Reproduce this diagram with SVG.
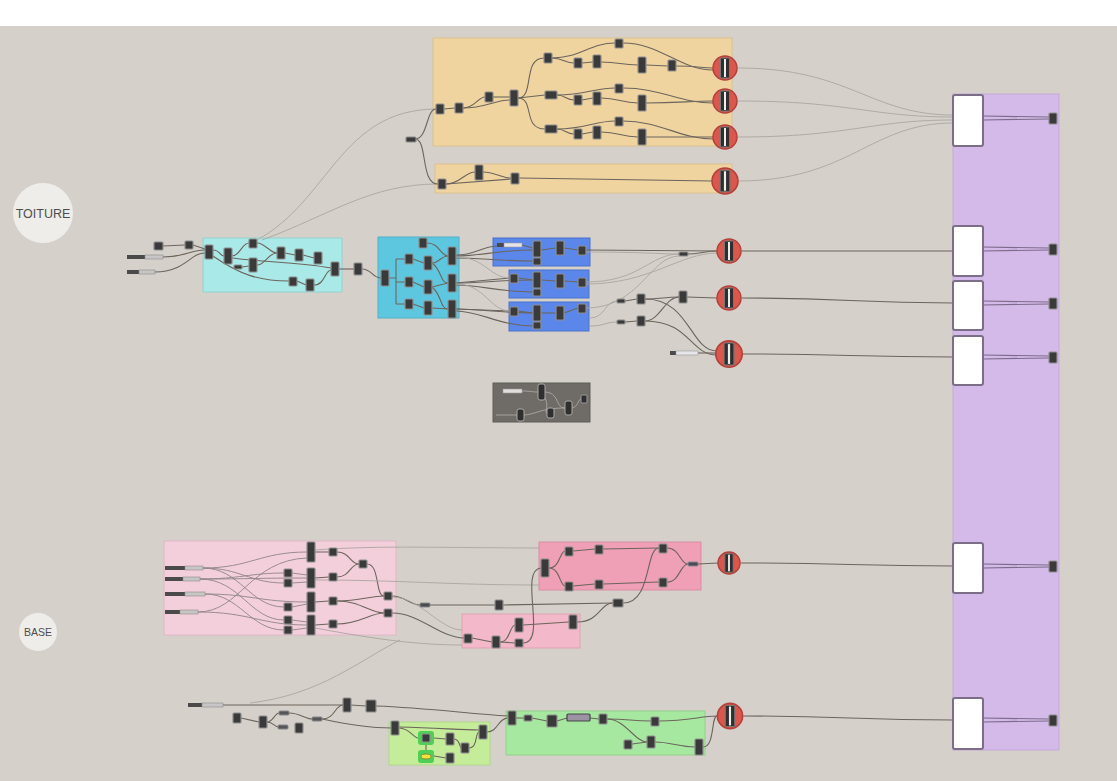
<svg xmlns="http://www.w3.org/2000/svg" width="1117" height="781" viewBox="0 0 1117 781">
<style>
.n{fill:#3a3a3a;stroke:#8e8e8e;stroke-width:1.2}
.w{fill:none;stroke:#6c655d;stroke-width:1.1}
.f{fill:none;stroke:#aaa6a0;stroke-width:0.9}
.p{fill:none;stroke:#8e8488;stroke-width:0.9}
.v{fill:none;stroke:#7c6b8a;stroke-width:1.2}
.sd{fill:#4a4a4a}
.sl{fill:#c8c6c4;stroke:#8a8a8a;stroke-width:0.6}
.wb{fill:#ffffff;stroke:#7b6e86;stroke-width:2}
.lbl{font-family:"Liberation Sans",Arial,sans-serif;fill:#4d4d4d}
</style>
<defs>
<g id="rc"><circle r="12" fill="#d9574c" stroke="#b5423a" stroke-width="1.5"/><rect x="-4.5" y="-10" width="9" height="20" rx="1" fill="#2f2f2f" stroke="#777"/><rect x="-1" y="-9" width="2" height="18" fill="#eeeeee"/></g>
</defs>
<rect x="0" y="0" width="1117" height="781" fill="#ffffff"/>
<rect x="0" y="26" width="1117" height="755" fill="#d5d1ca"/>

<g id="TOITURE"><circle cx="43" cy="213" r="30" fill="#efedea"/><text class="lbl" x="43" y="217.5" font-size="12.5" text-anchor="middle">TOITURE</text></g>
<g id="BASE"><circle cx="38" cy="632" r="19" fill="#efedea"/><text class="lbl" x="38" y="636" font-size="10.5" text-anchor="middle">BASE</text></g>

<g id="group-orange-1"><rect x="433" y="38" width="299" height="108" fill="#efd4a0" stroke="#dcc090"/></g>
<g id="group-orange-2"><rect x="435" y="164" width="297" height="29" fill="#efd4a0" stroke="#dcc090"/></g>
<g id="group-cyan-1"><rect x="203" y="238" width="139" height="54" fill="#a9e9e7" stroke="#96d2d0"/></g>
<g id="group-cyan-2"><rect x="378" y="237" width="81" height="81" fill="#5ec7e0" stroke="#4fb0c8"/></g>
<g id="group-blue-1"><rect x="493" y="238" width="97" height="28" fill="#5b87ea" stroke="#4a72cc"/></g>
<g id="group-blue-2"><rect x="509" y="270" width="80" height="28" fill="#5b87ea" stroke="#4a72cc"/></g>
<g id="group-blue-3"><rect x="509" y="302" width="80" height="29" fill="#5b87ea" stroke="#4a72cc"/></g>
<g id="group-gray"><rect x="493" y="383" width="97" height="39" fill="#6f6c67" stroke="#5f5c58"/></g>
<g id="group-pink-1"><rect x="164" y="541" width="232" height="94" fill="#f3cfdc" stroke="#e0b8c5"/></g>
<g id="group-pink-2"><rect x="539" y="542" width="162" height="48" fill="#ef9fb6" stroke="#d98da3"/></g>
<g id="group-pink-3"><rect x="462" y="614" width="118" height="34" fill="#f3b8c9" stroke="#dfa3b4"/></g>
<g id="group-lightgreen"><rect x="389" y="722" width="101" height="43" fill="#c5ec98" stroke="#b0d888"/></g>
<g id="group-green"><rect x="506" y="711" width="199" height="44" fill="#a7e8a0" stroke="#93d08c"/></g>
<g id="group-purple"><rect x="953" y="94" width="106" height="656" fill="#d4bae9" stroke="#c4a9da"/></g>

<g id="connectors">
<!-- faint long -->
<path class="f" d="M257 240 C330 200 340 110 436 109"/>
<path class="f" d="M262 240 C330 215 370 184 438 184"/>
<path class="f" d="M738 68 C850 68 870 115 953 115"/>
<path class="f" d="M738 101 C850 101 870 117 953 117"/>
<path class="f" d="M738 137 C850 137 870 120 953 120"/>
<path class="f" d="M738 181 C850 181 870 123 953 123"/>
<path class="f" d="M250 703 C320 695 360 660 400 640"/>
<!-- orange 1 -->
<path class="w" d="M415 139 C428 139 426 109 436 109"/>
<path class="w" d="M415 139 C428 139 420 184 438 184"/>
<path class="w" d="M444 109 L455 108"/>
<path class="w" d="M463 108 C475 108 478 97 485 97"/>
<path class="w" d="M463 108 C485 108 495 100 510 100"/>
<path class="w" d="M493 97 L510 97"/>
<path class="w" d="M518 98 C535 98 522 58 544 58"/>
<path class="w" d="M518 98 L545 95"/>
<path class="w" d="M518 98 C535 98 522 129 545 129"/>
<path class="w" d="M552 58 C563 58 565 63 574 63"/>
<path class="w" d="M582 63 L593 62"/>
<path class="w" d="M601 62 C620 62 620 65 638 65"/>
<path class="w" d="M646 65 L668 66"/>
<path class="w" d="M676 66 C700 66 700 68 713 68"/>
<path class="w" d="M552 58 C580 58 590 43 615 43"/>
<path class="w" d="M623 43 C660 43 680 70 713 70"/>
<path class="w" d="M557 95 C565 95 566 100 574 100"/>
<path class="w" d="M582 100 L593 98"/>
<path class="w" d="M601 98 C620 98 620 103 638 103"/>
<path class="w" d="M646 103 C680 103 690 101 713 101"/>
<path class="w" d="M557 95 C585 95 595 88 615 88"/>
<path class="w" d="M623 88 C660 88 680 103 713 103"/>
<path class="w" d="M557 129 C565 129 566 134 574 134"/>
<path class="w" d="M582 134 L593 132"/>
<path class="w" d="M601 132 C620 132 620 137 638 137"/>
<path class="w" d="M646 137 L713 137"/>
<path class="w" d="M557 129 C585 129 595 121 615 121"/>
<path class="w" d="M623 121 C660 121 680 139 713 139"/>
<!-- orange 2 -->
<path class="w" d="M446 184 C460 184 465 172 475 172"/>
<path class="w" d="M483 172 C495 172 500 178 511 178"/>
<path class="w" d="M446 184 L511 179"/>
<path class="w" d="M519 178 L712 181"/>
<!-- cyan 1 -->
<path class="w" d="M163 246 L185 245"/>
<path class="w" d="M193 245 L205 249"/>
<path class="w" d="M163 257 C185 257 190 250 205 250"/>
<path class="w" d="M155 272 C185 272 190 253 205 253"/>
<path class="w" d="M213 250 C220 250 220 256 224 256"/>
<path class="w" d="M232 256 C240 256 242 243 249 243"/>
<path class="w" d="M257 243 C265 243 270 253 277 253"/>
<path class="w" d="M257 265 C265 265 268 253 277 253"/>
<path class="w" d="M242 267 L249 266"/>
<path class="w" d="M232 258 C260 262 300 262 331 268"/>
<path class="w" d="M213 256 C240 275 260 281 289 281"/>
<path class="w" d="M297 281 L306 285"/>
<path class="w" d="M314 285 C325 285 325 270 331 270"/>
<path class="w" d="M339 269 L354 269"/>
<path class="w" d="M362 269 C372 269 372 278 381 278"/>
<path class="w" d="M285 253 L295 255 M303 255 L314 258"/>
<!-- cyan 2 -->
<path class="w" d="M389 278 L396 278 M396 259 L396 304 M396 259 L405 259 M396 282 L405 282 M396 304 L405 304"/>
<path class="w" d="M413 259 L424 263"/>
<path class="w" d="M413 282 L424 287"/>
<path class="w" d="M413 304 L424 308"/>
<path class="w" d="M427 243 C440 243 440 256 448 256"/>
<path class="w" d="M432 263 C440 263 440 256 448 256"/>
<path class="w" d="M432 287 L448 283"/>
<path class="w" d="M432 308 L448 309"/>
<path class="w" d="M432 263 C442 270 440 283 448 283"/>
<path class="w" d="M432 287 C442 295 440 309 448 309"/>
<!-- blue -->
<path class="w" d="M456 256 C480 256 500 250 533 250"/>
<path class="w" d="M456 258 C480 258 500 261 533 261"/>
<path class="w" d="M456 255 C475 255 480 247 497 246"/>
<path class="w" d="M522 245 L533 248"/>
<path class="w" d="M541 250 L556 248"/>
<path class="w" d="M564 248 L578 250"/>
<path class="w" d="M586 250 L717 251"/>
<path class="w" d="M456 283 L510 278"/>
<path class="w" d="M456 283 C480 283 500 280 533 280"/>
<path class="w" d="M456 285 C480 285 500 292 533 292"/>
<path class="w" d="M518 278 L533 280"/>
<path class="w" d="M541 280 L556 281"/>
<path class="w" d="M564 281 L578 282"/>
<path class="w" d="M456 309 L510 311"/>
<path class="w" d="M456 309 C480 309 500 313 533 313"/>
<path class="w" d="M456 311 C480 311 500 326 533 326"/>
<path class="w" d="M518 311 L533 313"/>
<path class="w" d="M541 313 L556 313"/>
<path class="w" d="M564 313 L578 308"/>
<path class="f" d="M456 257 C485 257 490 278 510 278"/>
<path class="f" d="M456 284 C485 284 490 311 510 311"/>
<path class="f" d="M586 282 C640 282 650 254 679 254"/>
<path class="f" d="M586 308 C640 308 650 256 679 256"/>
<path class="f" d="M586 252 C640 252 660 254 679 254"/>
<path class="f" d="M586 284 C650 284 680 253 717 253"/>
<path class="w" d="M687 254 C700 254 705 251 717 251"/>
<path class="f" d="M590 318 C605 318 605 301 617 301"/>
<path class="f" d="M590 326 C605 326 605 322 617 322"/>
<path class="w" d="M625 301 L637 299"/>
<path class="w" d="M625 322 L637 321"/>
<path class="w" d="M645 299 C660 299 665 297 679 297"/>
<path class="w" d="M687 297 L717 298"/>
<path class="w" d="M645 321 C660 321 665 297 679 297"/>
<path class="w" d="M645 299 C690 299 690 351 717 351"/>
<path class="w" d="M645 321 C690 321 690 355 717 355"/>
<path class="w" d="M698 353 L716 353"/>
<path class="w" d="M742 251 L953 251"/>
<path class="w" d="M742 298 C850 298 850 303 953 303"/>
<path class="w" d="M743 354 C850 354 850 357 953 357"/>
<!-- gray group -->
<path class="f" d="M522 391 C530 391 532 392 538 392"/>
<path class="f" d="M544 392 C560 392 555 408 565 408"/>
<path class="f" d="M496 415 L517 415"/>
<path class="f" d="M523 415 C535 415 540 408 565 408"/>
<path class="f" d="M544 396 C550 405 544 413 547 413"/>
<path class="f" d="M571 408 C578 408 578 399 581 399"/>
<!-- pink 1 -->
<path class="p" d="M203 568 C250 568 260 552 307 552"/>
<path class="p" d="M203 568 C240 568 250 583 284 583"/>
<path class="p" d="M203 568 C240 568 250 607 284 607"/>
<path class="p" d="M200 579 C240 579 250 573 284 573"/>
<path class="p" d="M200 579 C250 579 260 578 307 578"/>
<path class="p" d="M200 579 C240 579 250 620 284 620"/>
<path class="p" d="M205 594 C250 594 260 602 307 602"/>
<path class="p" d="M205 594 C240 594 250 630 284 630"/>
<path class="p" d="M198 612 C250 612 260 625 307 625"/>
<path class="p" d="M198 612 C240 612 250 560 307 558"/>
<path class="p" d="M292 573 L307 575 M292 583 L307 582 M292 607 L307 604 M292 620 L307 622 M292 630 L307 628"/>
<path class="w" d="M315 552 L329 552 M315 578 L329 577 M315 602 L329 601 M315 625 L329 624"/>
<path class="w" d="M337 552 C350 552 350 564 359 564"/>
<path class="w" d="M337 577 C350 577 350 564 359 564"/>
<path class="w" d="M367 564 C380 564 375 596 384 596"/>
<path class="w" d="M337 601 C360 601 370 596 384 596"/>
<path class="w" d="M337 624 C360 624 370 613 384 613"/>
<path class="w" d="M337 601 C360 601 370 613 384 613"/>
<path class="f" d="M315 550 C380 545 450 548 539 548"/>
<path class="f" d="M315 580 C400 580 450 585 539 585"/>
<path class="w" d="M392 596 C405 596 410 605 420 605"/>
<path class="w" d="M392 613 C420 613 440 638 464 638"/>
<path class="f" d="M392 597 C420 597 440 630 462 630"/>
<path class="f" d="M315 628 C380 640 420 645 462 645"/>
<!-- pink 2/3 -->
<path class="w" d="M430 605 L495 605"/>
<path class="w" d="M503 605 L613 603"/>
<path class="w" d="M623 603 C652 603 645 548 659 548"/>
<path class="w" d="M472 638 L492 642"/>
<path class="w" d="M500 642 C510 642 510 625 515 625"/>
<path class="w" d="M500 642 L515 643"/>
<path class="w" d="M523 625 L569 622"/>
<path class="w" d="M523 643 C548 643 518 570 541 568"/>
<path class="w" d="M577 622 C600 622 600 603 613 603"/>
<path class="w" d="M549 568 C560 568 560 551 565 551"/>
<path class="w" d="M573 551 L595 549"/>
<path class="w" d="M603 549 L659 548"/>
<path class="w" d="M549 568 C560 568 560 586 565 586"/>
<path class="w" d="M573 586 L595 584"/>
<path class="w" d="M603 584 L659 582"/>
<path class="w" d="M667 548 C680 548 680 564 688 564"/>
<path class="w" d="M667 582 C680 582 680 564 688 564"/>
<path class="w" d="M698 564 L718 563"/>
<path class="w" d="M741 563 C850 563 850 566 953 566"/>
<!-- bottom -->
<path class="w" d="M223 705 C280 705 320 705 343 705"/>
<path class="w" d="M241 718 L259 722"/>
<path class="w" d="M267 722 C273 722 275 713 279 713"/>
<path class="w" d="M267 722 C273 722 275 727 278 727"/>
<path class="w" d="M289 713 C300 713 305 719 312 719"/>
<path class="w" d="M322 719 C335 719 335 705 343 705"/>
<path class="w" d="M351 705 L366 706"/>
<path class="w" d="M376 706 C430 708 470 714 508 716"/>
<path class="w" d="M322 719 C350 725 370 728 391 728"/>
<path class="w" d="M399 728 C410 728 413 738 418 738"/>
<path class="w" d="M399 727 C440 728 460 730 479 730"/>
<path class="w" d="M434 738 L446 739"/>
<path class="w" d="M426 744 L426 751"/>
<path class="w" d="M434 756 L446 758"/>
<path class="w" d="M454 739 C460 739 460 748 461 748"/>
<path class="w" d="M469 748 C478 748 475 732 479 732"/>
<path class="w" d="M487 732 C498 732 498 718 508 718"/>
<path class="w" d="M516 718 L524 718"/>
<path class="w" d="M532 718 L547 721"/>
<path class="w" d="M557 721 L567 718"/>
<path class="w" d="M590 718 L599 719"/>
<path class="w" d="M607 719 C630 719 630 721 651 721"/>
<path class="w" d="M607 719 C625 719 635 742 647 742"/>
<path class="w" d="M632 744 L647 742"/>
<path class="w" d="M655 742 C670 742 680 747 695 747"/>
<path class="w" d="M659 721 C690 721 700 716 717 716"/>
<path class="w" d="M703 747 C715 747 711 716 717 716"/>
<path class="w" d="M743 716 C850 716 850 720 953 720"/>
<!-- purple outputs -->
<path class="v" d="M983 116 L1049 117 M983 120 L1049 119"/>
<path class="v" d="M983 247 L1049 248 M983 251 L1049 250"/>
<path class="v" d="M983 301 L1049 302 M983 305 L1049 304"/>
<path class="v" d="M983 355 L1049 356 M983 359 L1049 358"/>
<path class="v" d="M983 564 L1049 565 M983 568 L1049 567"/>
<path class="v" d="M983 718 L1049 719 M983 722 L1049 721"/>
</g>

<!-- orange 1 nodes -->
<g id="o0"><rect x="406" y="137" width="10" height="5" rx="1" class="n"/></g>
<g id="o1"><rect x="436" y="104" width="8" height="10" rx="1" class="n"/></g>
<g id="o2"><rect x="455" y="103" width="8" height="10" rx="1" class="n"/></g>
<g id="o3"><rect x="485" y="92" width="8" height="10" rx="1" class="n"/></g>
<g id="o4"><rect x="510" y="90" width="8" height="16" rx="1" class="n"/></g>
<g id="o5"><rect x="544" y="53" width="8" height="10" rx="1" class="n"/></g>
<g id="o6"><rect x="574" y="58" width="8" height="10" rx="1" class="n"/></g>
<g id="o7"><rect x="593" y="55" width="8" height="13" rx="1" class="n"/></g>
<g id="o8"><rect x="615" y="39" width="8" height="9" rx="1" class="n"/></g>
<g id="o9"><rect x="638" y="57" width="8" height="16" rx="1" class="n"/></g>
<g id="o10"><rect x="668" y="60" width="8" height="11" rx="1" class="n"/></g>
<g id="o11"><rect x="545" y="91" width="12" height="8" rx="1" class="n"/></g>
<g id="o12"><rect x="574" y="95" width="8" height="10" rx="1" class="n"/></g>
<g id="o13"><rect x="593" y="92" width="8" height="13" rx="1" class="n"/></g>
<g id="o14"><rect x="615" y="84" width="8" height="9" rx="1" class="n"/></g>
<g id="o15"><rect x="638" y="95" width="8" height="16" rx="1" class="n"/></g>
<g id="o16"><rect x="545" y="125" width="12" height="8" rx="1" class="n"/></g>
<g id="o17"><rect x="574" y="129" width="8" height="10" rx="1" class="n"/></g>
<g id="o18"><rect x="593" y="126" width="8" height="13" rx="1" class="n"/></g>
<g id="o19"><rect x="615" y="117" width="8" height="9" rx="1" class="n"/></g>
<g id="o20"><rect x="638" y="129" width="8" height="16" rx="1" class="n"/></g>
<g id="p1"><rect x="438" y="179" width="8" height="10" rx="1" class="n"/></g>
<g id="p2"><rect x="475" y="165" width="8" height="15" rx="1" class="n"/></g>
<g id="p3"><rect x="511" y="173" width="8" height="11" rx="1" class="n"/></g>
<g id="r1"><use href="#rc" x="725" y="68"/></g>
<g id="r2"><use href="#rc" x="725" y="101"/></g>
<g id="r3"><use href="#rc" x="725" y="137"/></g>
<g id="r4"><use href="#rc" x="725" y="181" transform="translate(725 181) scale(1.08) translate(-725 -181)"/></g>

<!-- cyan 1 nodes -->
<g id="sl1"><rect x="127" y="255" width="18" height="4" class="sd"/><rect x="145" y="255" width="18" height="4" class="sl"/></g>
<g id="sl2"><rect x="127" y="270" width="12" height="4" class="sd"/><rect x="139" y="270" width="16" height="4" class="sl"/></g>
<g id="c1"><rect x="154" y="242" width="9" height="8" rx="1" class="n"/></g>
<g id="c2"><rect x="185" y="241" width="8" height="8" rx="1" class="n"/></g>
<g id="c3"><rect x="205" y="245" width="8" height="14" rx="1" class="n"/></g>
<g id="c4"><rect x="224" y="248" width="8" height="16" rx="1" class="n"/></g>
<g id="c5"><rect x="234" y="265" width="8" height="4" rx="1" class="n"/></g>
<g id="c6"><rect x="249" y="239" width="8" height="9" rx="1" class="n"/></g>
<g id="c7"><rect x="249" y="258" width="8" height="14" rx="1" class="n"/></g>
<g id="c8"><rect x="277" y="247" width="8" height="12" rx="1" class="n"/></g>
<g id="c9"><rect x="295" y="249" width="8" height="12" rx="1" class="n"/></g>
<g id="c10"><rect x="314" y="252" width="8" height="12" rx="1" class="n"/></g>
<g id="c11"><rect x="331" y="262" width="8" height="14" rx="1" class="n"/></g>
<g id="c12"><rect x="354" y="263" width="8" height="12" rx="1" class="n"/></g>
<g id="c13"><rect x="289" y="277" width="8" height="9" rx="1" class="n"/></g>
<g id="c14"><rect x="306" y="279" width="8" height="12" rx="1" class="n"/></g>

<!-- cyan 2 nodes -->
<g id="d1"><rect x="381" y="270" width="8" height="16" rx="1" class="n"/></g>
<g id="d2"><rect x="405" y="254" width="8" height="10" rx="1" class="n"/></g>
<g id="d3"><rect x="405" y="277" width="8" height="10" rx="1" class="n"/></g>
<g id="d4"><rect x="405" y="299" width="8" height="10" rx="1" class="n"/></g>
<g id="d5"><rect x="419" y="238" width="8" height="10" rx="1" class="n"/></g>
<g id="d6"><rect x="424" y="256" width="8" height="14" rx="1" class="n"/></g>
<g id="d7"><rect x="424" y="280" width="8" height="14" rx="1" class="n"/></g>
<g id="d8"><rect x="424" y="301" width="8" height="14" rx="1" class="n"/></g>
<g id="d9"><rect x="448" y="247" width="8" height="18" rx="1" class="n"/></g>
<g id="d10"><rect x="448" y="274" width="8" height="18" rx="1" class="n"/></g>
<g id="d11"><rect x="448" y="300" width="8" height="18" rx="1" class="n"/></g>

<!-- blue nodes -->
<g id="sl3"><rect x="497" y="243" width="7" height="4" class="sd"/><rect x="504" y="243" width="18" height="4" fill="#e6e6ea" stroke="#999" stroke-width="0.6"/></g>
<g id="e1"><rect x="533" y="241" width="8" height="16" rx="1" class="n"/></g>
<g id="e2"><rect x="533" y="258" width="8" height="7" rx="1" class="n"/></g>
<g id="e3"><rect x="556" y="241" width="8" height="14" rx="1" class="n"/></g>
<g id="e4"><rect x="578" y="246" width="8" height="9" rx="1" class="n"/></g>
<g id="e5"><rect x="510" y="274" width="8" height="9" rx="1" class="n"/></g>
<g id="e6"><rect x="533" y="272" width="8" height="16" rx="1" class="n"/></g>
<g id="e7"><rect x="533" y="289" width="8" height="7" rx="1" class="n"/></g>
<g id="e8"><rect x="556" y="274" width="8" height="14" rx="1" class="n"/></g>
<g id="e9"><rect x="578" y="278" width="8" height="9" rx="1" class="n"/></g>
<g id="e10"><rect x="510" y="307" width="8" height="9" rx="1" class="n"/></g>
<g id="e11"><rect x="533" y="305" width="8" height="16" rx="1" class="n"/></g>
<g id="e12"><rect x="533" y="322" width="8" height="7" rx="1" class="n"/></g>
<g id="e13"><rect x="556" y="306" width="8" height="14" rx="1" class="n"/></g>
<g id="e14"><rect x="578" y="304" width="8" height="9" rx="1" class="n"/></g>
<g id="f0"><rect x="679" y="252" width="9" height="4" rx="1" class="n"/></g>
<g id="f1"><rect x="617" y="299" width="8" height="4" rx="1" class="n"/></g>
<g id="f2"><rect x="637" y="294" width="8" height="10" rx="1" class="n"/></g>
<g id="f3"><rect x="617" y="320" width="8" height="4" rx="1" class="n"/></g>
<g id="f4"><rect x="637" y="316" width="8" height="10" rx="1" class="n"/></g>
<g id="f5"><rect x="679" y="291" width="8" height="12" rx="1" class="n"/></g>
<g id="sl4"><rect x="670" y="351" width="6" height="4" class="sd"/><rect x="676" y="351" width="22" height="4" fill="#e6e6ea" stroke="#999" stroke-width="0.6"/></g>
<g id="r5"><use href="#rc" x="729" y="251"/></g>
<g id="r6"><use href="#rc" x="729" y="298"/></g>
<g id="r7"><use href="#rc" x="729" y="354" transform="translate(729 354) scale(1.1) translate(-729 -354)"/></g>

<!-- gray group nodes -->
<g id="g0"><rect x="503" y="389" width="19" height="4" fill="#e0dfdd" stroke="#999" stroke-width="0.6"/></g>
<g id="g1"><rect x="538" y="384" width="7" height="16" rx="2" fill="#2f2f2f" stroke="#aaa"/></g>
<g id="g2"><rect x="517" y="409" width="7" height="12" rx="2" fill="#2f2f2f" stroke="#aaa"/></g>
<g id="g3"><rect x="547" y="408" width="7" height="10" rx="2" fill="#2f2f2f" stroke="#aaa"/></g>
<g id="g4"><rect x="565" y="401" width="7" height="14" rx="2" fill="#2f2f2f" stroke="#aaa"/></g>
<g id="g5"><rect x="581" y="395" width="6" height="8" rx="1" fill="#2f2f2f" stroke="#999"/></g>

<!-- pink 1 nodes -->
<g id="sl5"><rect x="165" y="566" width="20" height="4" class="sd"/><rect x="185" y="566" width="18" height="4" class="sl"/></g>
<g id="sl6"><rect x="165" y="577" width="18" height="4" class="sd"/><rect x="183" y="577" width="17" height="4" class="sl"/></g>
<g id="sl7"><rect x="165" y="592" width="20" height="4" class="sd"/><rect x="185" y="592" width="20" height="4" class="sl"/></g>
<g id="sl8"><rect x="165" y="610" width="15" height="4" class="sd"/><rect x="180" y="610" width="18" height="4" class="sl"/></g>
<g id="h1"><rect x="307" y="542" width="8" height="20" rx="1" class="n"/></g>
<g id="h2"><rect x="307" y="568" width="8" height="20" rx="1" class="n"/></g>
<g id="h3"><rect x="307" y="592" width="8" height="20" rx="1" class="n"/></g>
<g id="h4"><rect x="307" y="615" width="8" height="20" rx="1" class="n"/></g>
<g id="h5"><rect x="284" y="569" width="8" height="8" rx="1" class="n"/></g>
<g id="h6"><rect x="284" y="579" width="8" height="8" rx="1" class="n"/></g>
<g id="h7"><rect x="284" y="603" width="8" height="8" rx="1" class="n"/></g>
<g id="h8"><rect x="284" y="616" width="8" height="8" rx="1" class="n"/></g>
<g id="h9"><rect x="284" y="626" width="8" height="8" rx="1" class="n"/></g>
<g id="h10"><rect x="329" y="548" width="8" height="8" rx="1" class="n"/></g>
<g id="h11"><rect x="329" y="573" width="8" height="8" rx="1" class="n"/></g>
<g id="h12"><rect x="329" y="597" width="8" height="8" rx="1" class="n"/></g>
<g id="h13"><rect x="329" y="620" width="8" height="8" rx="1" class="n"/></g>
<g id="h14"><rect x="359" y="560" width="8" height="8" rx="1" class="n"/></g>
<g id="h15"><rect x="384" y="592" width="8" height="8" rx="1" class="n"/></g>
<g id="h16"><rect x="384" y="609" width="8" height="8" rx="1" class="n"/></g>

<!-- pink 2/3 nodes -->
<g id="j1"><rect x="420" y="603" width="10" height="4" rx="1" fill="#4a4a52" stroke="#888"/></g>
<g id="j2"><rect x="495" y="600" width="8" height="10" rx="1" class="n"/></g>
<g id="j3"><rect x="613" y="599" width="10" height="8" rx="1" class="n"/></g>
<g id="i1"><rect x="541" y="559" width="8" height="18" rx="1" class="n"/></g>
<g id="i2"><rect x="565" y="547" width="8" height="9" rx="1" class="n"/></g>
<g id="i3"><rect x="595" y="545" width="8" height="9" rx="1" class="n"/></g>
<g id="i4"><rect x="659" y="544" width="8" height="9" rx="1" class="n"/></g>
<g id="i5"><rect x="565" y="582" width="8" height="9" rx="1" class="n"/></g>
<g id="i6"><rect x="595" y="580" width="8" height="9" rx="1" class="n"/></g>
<g id="i7"><rect x="659" y="578" width="8" height="9" rx="1" class="n"/></g>
<g id="i8"><rect x="688" y="562" width="10" height="4" rx="1" fill="#4a4a5a" stroke="#888"/></g>
<g id="k1"><rect x="464" y="634" width="8" height="9" rx="1" class="n"/></g>
<g id="k2"><rect x="492" y="636" width="8" height="12" rx="1" class="n"/></g>
<g id="k3"><rect x="515" y="618" width="8" height="14" rx="1" class="n"/></g>
<g id="k4"><rect x="515" y="639" width="8" height="8" rx="1" class="n"/></g>
<g id="k5"><rect x="569" y="615" width="8" height="14" rx="1" class="n"/></g>
<g id="r8"><use href="#rc" x="729" y="563" transform="translate(729 563) scale(0.92) translate(-729 -563)"/></g>

<!-- bottom nodes -->
<g id="sl9"><rect x="188" y="703" width="14" height="4" class="sd"/><rect x="202" y="703" width="21" height="4" class="sl"/></g>
<g id="m1"><rect x="233" y="713" width="8" height="10" rx="1" class="n"/></g>
<g id="m2"><rect x="259" y="716" width="8" height="12" rx="1" class="n"/></g>
<g id="m3"><rect x="279" y="711" width="10" height="4" rx="1" fill="#55555a" stroke="#888"/></g>
<g id="m4"><rect x="278" y="725" width="10" height="4" rx="1" fill="#55555a" stroke="#888"/></g>
<g id="m5"><rect x="295" y="723" width="8" height="10" rx="1" class="n"/></g>
<g id="m6"><rect x="312" y="717" width="10" height="4" rx="1" fill="#55555a" stroke="#888"/></g>
<g id="m7"><rect x="343" y="698" width="8" height="14" rx="1" class="n"/></g>
<g id="m8"><rect x="366" y="700" width="10" height="12" rx="1" class="n"/></g>
<g id="n1"><rect x="391" y="721" width="8" height="14" rx="1" class="n"/></g>
<g id="n2"><rect x="418" y="731" width="16" height="14" rx="3" fill="#4fcf55"/><rect x="422" y="734" width="8" height="8" rx="1" class="n"/></g>
<g id="n3"><rect x="418" y="750" width="16" height="13" rx="3" fill="#4fcf55"/><ellipse cx="426" cy="756.5" rx="5" ry="2.5" fill="#f2e23a" stroke="#8a8a40"/></g>
<g id="n4"><rect x="446" y="733" width="8" height="12" rx="1" class="n"/></g>
<g id="n5"><rect x="446" y="753" width="8" height="10" rx="1" class="n"/></g>
<g id="n6"><rect x="461" y="743" width="8" height="10" rx="1" class="n"/></g>
<g id="n7"><rect x="479" y="725" width="8" height="14" rx="1" class="n"/></g>
<g id="q1"><rect x="508" y="711" width="8" height="14" rx="1" class="n"/></g>
<g id="q2"><rect x="524" y="715" width="8" height="6" rx="1" class="n"/></g>
<g id="q3"><rect x="547" y="715" width="10" height="12" rx="1" class="n"/></g>
<g id="q9"><rect x="567" y="714" width="23" height="7" rx="1" fill="#9b93a4" stroke="#444" stroke-width="1.2"/></g>
<g id="q4"><rect x="599" y="714" width="8" height="10" rx="1" class="n"/></g>
<g id="q5"><rect x="651" y="717" width="8" height="9" rx="1" class="n"/></g>
<g id="q6"><rect x="624" y="740" width="8" height="9" rx="1" class="n"/></g>
<g id="q7"><rect x="647" y="736" width="8" height="12" rx="1" class="n"/></g>
<g id="q8"><rect x="695" y="739" width="8" height="16" rx="1" class="n"/></g>
<g id="r9"><use href="#rc" x="730" y="716" transform="translate(730 716) scale(1.05) translate(-730 -716)"/></g>

<!-- purple panel -->
<g id="out1"><rect x="953" y="95" width="30" height="51" rx="2" class="wb"/><rect x="1049" y="113" width="8" height="11" rx="1" class="n"/></g>
<g id="out2"><rect x="953" y="226" width="30" height="50" rx="2" class="wb"/><rect x="1049" y="244" width="8" height="11" rx="1" class="n"/></g>
<g id="out3"><rect x="953" y="281" width="30" height="49" rx="2" class="wb"/><rect x="1049" y="298" width="8" height="11" rx="1" class="n"/></g>
<g id="out4"><rect x="953" y="336" width="30" height="49" rx="2" class="wb"/><rect x="1049" y="352" width="8" height="11" rx="1" class="n"/></g>
<g id="out5"><rect x="953" y="543" width="30" height="50" rx="2" class="wb"/><rect x="1049" y="561" width="8" height="11" rx="1" class="n"/></g>
<g id="out6"><rect x="953" y="698" width="30" height="51" rx="2" class="wb"/><rect x="1049" y="715" width="8" height="11" rx="1" class="n"/></g>
</svg>
